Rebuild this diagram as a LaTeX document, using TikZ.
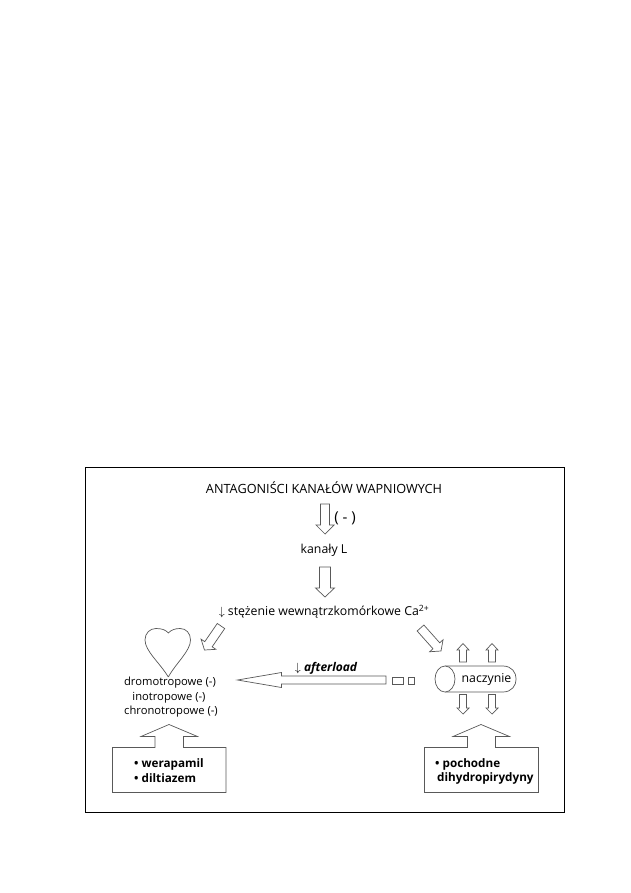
\documentclass[tikz,border=0pt]{standalone}
\usepackage{fontspec}
\setmainfont{Open Sans}
\usetikzlibrary{calc}
\tikzset{
  hollow/.style={draw=black!65, line width=0.7, fill=white},
  label/.style={inner sep=0, font=\fontsize{12.3}{14}\selectfont},
  smalllabel/.style={inner sep=0, font=\fontsize{11.2}{13}\selectfont},
  boxtext/.style={inner sep=0, anchor=west, font=\fontsize{11.7}{13}\selectfont\bfseries},
  blockarrow/.style args={#1/#2/#3}{to path={
    ($(\tikztostart)!#1/2!90:(\tikztotarget)$)
    -- ($($(\tikztotarget)!#3!(\tikztostart)$)!#1/2!90:(\tikztotarget)$)
    -- ($($(\tikztotarget)!#3!(\tikztostart)$)!#2/2!90:(\tikztotarget)$)
    -- (\tikztotarget)
    -- ($($(\tikztotarget)!#3!(\tikztostart)$)!#2/2!-90:(\tikztotarget)$)
    -- ($($(\tikztotarget)!#3!(\tikztostart)$)!#1/2!-90:(\tikztotarget)$)
    -- ($(\tikztostart)!#1/2!-90:(\tikztotarget)$) -- cycle}}
}
\begin{document}
\begin{tikzpicture}[x=1pt, y=-1pt]
  \useasboundingbox (0,0) rectangle (630,893);
  \fill[white] (0,0) rectangle (630,893);
  \draw[line width=1] (85.5,467) rectangle (564,812);

  % texts down the middle
  \node[label, font=\fontsize{12.7}{14}\selectfont] (title) at (324,488) {ANTAGONIŚCI KANAŁÓW WAPNIOWYCH};
  \node[label, font=\fontsize{15}{16}\selectfont] (minus) at (345,518) {( - )};
  \node[label] (kanaly) at (324,550) {kanały L};
  \node[label] (stezenie) at (324,612) {$\downarrow$ stężenie wewnątrzkomórkowe Ca\textsuperscript{2+}};
  \node[smalllabel, font=\fontsize{12}{14}\selectfont\bfseries\itshape] (afterload) at (326,668) {$\downarrow$ afterload};
  \node[smalllabel] (dromo) at (170,683) {dromotropowe (-)};
  \node[smalllabel] (ino) at (169,698) {inotropowe (-)};
  \node[smalllabel] (chrono) at (171,712) {chronotropowe (-)};

  % ends of the block arrows
  \coordinate (a1) at (325,504);
  \coordinate (a2) at (325,534);
  \coordinate (b1) at (325,567);
  \coordinate (b2) at (325,597);
  \coordinate (c1) at (221,626);
  \coordinate (c2) at (204.5,650);
  \coordinate (d1) at (420.5,628);
  \coordinate (d2) at (441,651);
  \coordinate (e1) at (386,680);
  \coordinate (e2) at (237.5,680);
  \draw[hollow, blockarrow={9pt/18pt/9pt}] (a1) to (a2);
  \draw[hollow, blockarrow={11pt/19pt/9pt}] (b1) to (b2);
  \draw[hollow, blockarrow={9pt/18pt/7pt}] (c1) to (c2);
  \draw[hollow, blockarrow={9pt/18pt/7pt}] (d1) to (d2);
  \draw[hollow, blockarrow={8pt/15pt/44pt}] (e1) to (e2);
  \draw[hollow] (392,677) rectangle (403,684);
  \draw[hollow] (408,677) rectangle (414,684);

  % heart
  \draw[hollow] (168.3,677) .. controls (160,663) and (145,651) .. (145,640)
    .. controls (145,633) and (150,628.5) .. (156,628.5)
    .. controls (162,628.5) and (166,630) .. (168.3,633)
    .. controls (171,630) and (175,628.5) .. (180,628.5)
    .. controls (186,628.5) and (190.5,633) .. (190.5,640)
    .. controls (190.5,651) and (176,663) .. (168.3,677);

  % vessel
  \draw[hollow] (445,666) -- (503,666) .. controls (520.5,666) and (520.5,692) .. (503,692) -- (445,692);
  \draw[hollow] (445,679) ellipse (10 and 13);
  \node[label] (naczynie) at (486.5,679) {naczynie};
  \foreach \x/\n in {463/u, 492/v} {
    \coordinate (\n1) at (\x,662);
    \coordinate (\n2) at (\x,643.5);
    \coordinate (\n3) at (\x,694.5);
    \coordinate (\n4) at (\x,714);
    \draw[hollow, blockarrow={7pt/12pt/6.5pt}] (\n1) to (\n2);
    \draw[hollow, blockarrow={7pt/12pt/6pt}] (\n3) to (\n4);
  }

  % boxes with their arrows
  \draw[hollow] (112.5,747.5) -- (155,747.5) -- (155,736.5) -- (141,736.5) -- (169,724.5)
    -- (197.5,736.5) -- (183.5,736.5) -- (183.5,747.5) -- (226,747.5) -- (226,792.5)
    -- (112.5,792.5) -- cycle;
  \node[boxtext] (wera) at (134,764) {• werapamil};
  \node[boxtext] (dilt) at (134,778) {• diltiazem};
  \draw[hollow] (424.5,747.5) -- (467.5,747.5) -- (467.5,736.5) -- (453,736.5) -- (481,724.5)
    -- (509.5,736.5) -- (495.5,736.5) -- (495.5,747.5) -- (538.5,747.5) -- (538.5,792.5)
    -- (424.5,792.5) -- cycle;
  \node[boxtext] (poch) at (435,764) {• pochodne};
  \node[boxtext] (dihy) at (437,778) {dihydropirydyny};
\end{tikzpicture}
\end{document}
